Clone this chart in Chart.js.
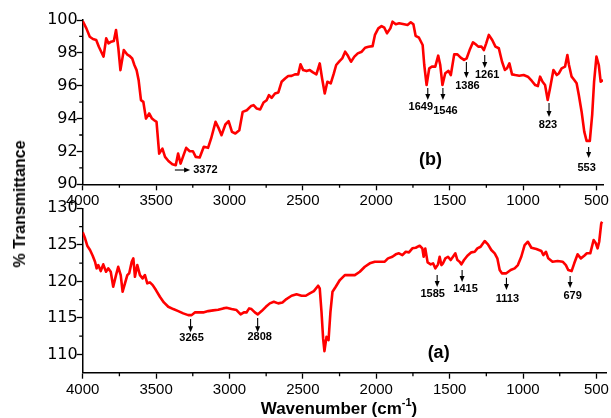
<!DOCTYPE html>
<html>
<head>
<meta charset="utf-8">
<title>FTIR spectra</title>
<script src="https://cdn.jsdelivr.net/npm/chart.js@4.4.1/dist/chart.umd.min.js"></script>
<style>
  html, body { margin: 0; padding: 0; background: #fff; }
  #wrap { position: relative; width: 611px; height: 418px; overflow: hidden; background: #fff; }
  .panel { position: absolute; left: 0; width: 611px; }
  #panelB { top: 0; height: 215px; }
  #panelA { top: 195px; height: 223px; }
  #yTitle {
    position: absolute; left: 20px; top: 204px;
    transform: translate(-50%, -50%) rotate(-90deg);
    font: bold 16px 'Liberation Sans', Arial, sans-serif;
    white-space: nowrap; color: #000;
  }
  #xTitle {
    position: absolute; left: 339px; top: 408px;
    transform: translate(-50%, -50%);
    font: bold 17px 'Liberation Sans', Arial, sans-serif;
    white-space: nowrap; color: #000;
  }
  #xTitle sup { font-size: 11px; position: relative; top: -1px; }
</style>
</head>
<body>
<div id="wrap">
  <div class="panel" id="panelB"><canvas id="chartB"></canvas></div>
  <div class="panel" id="panelA"><canvas id="chartA"></canvas></div>
  <div id="yTitle">% Transmittance</div>
  <div id="xTitle">Wavenumber (cm<sup>-1</sup>)</div>
</div>
<script>
// spectrum (b), upper panel
const wavenumbersB = [
  4000, 3975, 3952, 3930, 3908, 3890, 3874, 3858, 3840, 3824, 3806, 3788, 3773, 3757, 3743,
  3720, 3698, 3682, 3663, 3648, 3633, 3619, 3603, 3587, 3569, 3547, 3528, 3513, 3497, 3479,
  3457, 3439, 3416, 3389, 3366, 3350, 3333, 3317, 3295, 3271, 3249, 3230, 3203, 3175, 3146,
  3125, 3095, 3073, 3054, 3028, 3006, 2983, 2960, 2933, 2910, 2882, 2852, 2836, 2814, 2791,
  2768, 2747, 2731, 2713, 2690, 2667, 2645, 2621, 2600, 2577, 2554, 2532, 2516, 2498, 2475,
  2453, 2431, 2408, 2385, 2369, 2351, 2333, 2310, 2289, 2273, 2250, 2232, 2212, 2193, 2172,
  2149, 2126, 2099, 2076, 2053, 2025, 2009, 1986, 1964, 1945, 1927, 1904, 1889, 1867, 1844,
  1810, 1787, 1765, 1747, 1732, 1709, 1684, 1673, 1657, 1639, 1621, 1598, 1578, 1564, 1549,
  1530, 1508, 1492, 1469, 1447, 1425, 1402, 1384, 1364, 1341, 1323, 1305, 1283, 1267, 1251,
  1233, 1210, 1188, 1165, 1143, 1124, 1109, 1093, 1075, 1053, 1026, 996, 967, 940, 917,
  899, 884, 867, 850, 832, 816, 793, 770, 755, 737, 714, 698, 687, 669, 651,
  635, 620, 601, 583, 567, 545, 529, 516, 500, 484, 471, 455,
];
const transmittanceB = [
  99.94, 99.49, 98.98, 98.84, 98.78, 98.37, 98.07, 97.77, 98.88, 98.58, 98.68, 98.72, 99.39, 98.27, 96.95,
  98.17, 97.91, 97.82, 97.66, 97.26, 96.95, 96.34, 95.12, 95.02, 94.0, 94.31, 94.0, 93.9, 93.8, 91.87,
  92.17, 91.67, 91.42, 91.22, 91.16, 91.87, 91.26, 91.67, 92.22, 92.01, 92.01, 91.67, 91.63, 92.28, 92.22,
  92.79, 93.8, 93.4, 92.99, 93.64, 93.84, 93.19, 93.09, 93.29, 94.41, 94.51, 94.77, 94.82, 94.61, 94.55,
  94.98, 95.12, 95.43, 95.26, 95.53, 95.59, 96.24, 96.44, 96.59, 96.6, 96.69, 96.69, 97.3, 96.95, 96.89,
  96.95, 96.81, 96.69, 97.36, 96.44, 95.53, 96.24, 96.14, 96.75, 97.26, 97.5, 97.66, 98.07, 97.82, 97.46,
  97.77, 97.97, 98.07, 98.31, 98.37, 98.41, 99.09, 99.49, 99.63, 99.53, 99.19, 99.49, 99.9, 99.74, 99.8,
  99.74, 99.7, 99.86, 99.74, 99.04, 98.92, 98.48, 97.26, 96.04, 97.06, 97.16, 97.16, 97.83, 97.26, 96.04,
  96.76, 96.9, 96.65, 97.91, 97.91, 97.71, 97.57, 97.67, 98.17, 98.64, 98.52, 98.38, 98.38, 98.17, 98.58,
  99.09, 98.78, 98.38, 98.28, 97.46, 96.96, 97.06, 97.36, 96.69, 96.65, 96.61, 96.65, 96.55, 96.29, 96.04,
  95.98, 96.55, 96.24, 96.04, 95.13, 95.84, 96.96, 96.65, 96.76, 97.06, 97.16, 97.87, 97.26, 96.55, 96.35,
  96.15, 95.44, 94.42, 93.21, 92.64, 92.64, 94.22, 96.24, 97.77, 97.26, 96.24, 96.35,
];

// spectrum (a), lower panel
const wavenumbersA = [
  4000, 3984, 3969, 3950, 3932, 3916, 3905, 3894, 3877, 3860, 3841, 3826, 3809, 3792, 3773,
  3758, 3741, 3728, 3712, 3696, 3683, 3666, 3655, 3644, 3628, 3610, 3592, 3576, 3560, 3542,
  3523, 3501, 3474, 3447, 3417, 3383, 3349, 3315, 3281, 3258, 3236, 3206, 3179, 3145, 3111,
  3077, 3043, 3020, 2986, 2952, 2924, 2902, 2884, 2866, 2850, 2827, 2808, 2781, 2752, 2725,
  2698, 2668, 2639, 2612, 2577, 2543, 2509, 2480, 2453, 2425, 2396, 2385, 2373, 2362, 2353,
  2339, 2325, 2312, 2298, 2276, 2248, 2214, 2180, 2146, 2112, 2078, 2044, 2010, 1971, 1942,
  1920, 1890, 1867, 1845, 1822, 1799, 1777, 1754, 1731, 1704, 1686, 1677, 1666, 1650, 1629,
  1613, 1597, 1579, 1568, 1556, 1545, 1529, 1511, 1493, 1477, 1461, 1447, 1432, 1420, 1402,
  1379, 1352, 1329, 1311, 1289, 1261, 1239, 1216, 1193, 1175, 1159, 1144, 1114, 1084, 1057,
  1035, 1012, 989, 967, 943, 909, 875, 862, 844, 828, 799, 764, 730, 708, 692,
  669, 651, 628, 606, 583, 565, 542, 519, 504, 492, 481, 467, 461,
];
const transmittanceA = [
  126.71, 125.89, 124.88, 124.29, 123.51, 122.69, 121.78, 122.23, 121.41, 122.33, 121.32, 121.78, 121.32, 119.26, 120.86,
  122.0, 120.86, 118.58, 119.73, 120.86, 121.1, 122.69, 123.15, 120.63, 122.23, 120.86, 120.41, 120.86, 119.73, 119.86,
  119.49, 118.81, 117.89, 117.12, 116.52, 116.21, 115.93, 115.62, 115.38, 115.38, 115.75, 115.75, 115.75, 115.93, 116.03,
  116.11, 116.3, 116.38, 116.21, 116.07, 115.48, 115.75, 115.75, 116.3, 116.21, 115.75, 115.48, 115.93, 116.52, 116.99,
  117.21, 116.99, 117.12, 117.58, 118.03, 118.22, 118.03, 118.03, 118.36, 118.67, 119.4, 119.04, 115.84, 112.19, 110.45,
  112.41, 111.96, 115.84, 118.58, 119.26, 120.18, 120.86, 120.86, 120.86, 121.32, 122.0, 122.47, 122.69, 122.69, 122.69,
  123.15, 123.37, 123.7, 123.84, 123.6, 124.05, 123.97, 124.52, 124.6, 124.88, 124.52, 123.37, 124.5, 122.6, 122.33,
  122.47, 121.78, 122.33, 123.37, 122.23, 122.47, 123.15, 123.37, 122.92, 123.37, 123.84, 122.92, 122.69, 122.33, 122.92,
  123.51, 123.97, 124.05, 124.52, 124.74, 125.52, 125.07, 124.29, 123.84, 123.15, 121.55, 121.1, 121.1, 121.55, 121.78,
  122.23, 123.37, 124.97, 125.42, 124.6, 124.42, 124.15, 123.6, 124.05, 123.15, 122.69, 122.78, 122.69, 122.23, 121.55,
  121.41, 122.47, 123.7, 123.15, 123.51, 123.84, 123.84, 125.66, 125.21, 124.52, 125.42, 127.95, 128.16,
];

// labelled bands
const peaksB = [1649, 1546, 1386, 1261, 823, 553];
const peaksA = [3265, 2808, 1585, 1415, 1113, 679];

// tick values
const xMajorTicks = [4000, 3500, 3000, 2500, 2000, 1500, 1000, 500];
const xMinorTicks = [3750, 3250, 2750, 2250, 1750, 1250, 750];
const yMajorTicksB = [90, 92, 94, 96, 98, 100];
const yMinorTicksB = [91, 93, 95, 97, 99];
const yMajorTicksA = [110, 115, 120, 125, 130];
const yMinorTicksA = [112.5, 117.5, 122.5, 127.5];

const FONT = "'Liberation Sans', Arial, sans-serif";

const toPoints = (xs, ys) => xs.map((x, i) => ({ x, y: ys[i] }));
const fixedTicks = (values) => (scale) => {
  scale.ticks = values.map((value) => ({ value }));
};

const drawArrowHead = (ctx, x, y, dir) => {
  ctx.beginPath();
  if (dir === 'down') {
    ctx.moveTo(x - 2.5, y - 6);
    ctx.lineTo(x + 2.5, y - 6);
  } else {
    ctx.moveTo(x - 6, y - 2.5);
    ctx.lineTo(x - 6, y + 2.5);
  }
  ctx.lineTo(x, y);
  ctx.closePath();
  ctx.fill();
};

// small outward ticks between the labelled ones
const minorTicks = {
  id: 'minorTicks',
  afterDraw(chart, args, opts) {
    const { ctx, chartArea, scales } = chart;
    ctx.save();
    ctx.strokeStyle = '#000';
    ctx.lineWidth = 1.3;
    ctx.beginPath();
    opts.x.forEach((v) => {
      const px = scales.x.getPixelForValue(v);
      ctx.moveTo(px, chartArea.bottom);
      ctx.lineTo(px, chartArea.bottom + 3.5);
    });
    opts.y.forEach((v) => {
      const py = scales.y.getPixelForValue(v);
      ctx.moveTo(chartArea.left, py);
      ctx.lineTo(chartArea.left - 3.5, py);
    });
    ctx.stroke();
    ctx.restore();
  },
};

// arrows + band numbers + panel tag
const peakMarks = {
  id: 'peakMarks',
  afterDatasetsDraw(chart, args, opts) {
    const { ctx, scales } = chart;
    const { x, y } = scales;
    ctx.save();
    ctx.fillStyle = '#000';
    ctx.strokeStyle = '#000';
    ctx.lineWidth = 1.1;
    ctx.font = `bold 11px ${FONT}`;
    ctx.textAlign = 'center';
    ctx.textBaseline = 'middle';

    opts.marks.forEach((m) => {
      const px = x.getPixelForValue(m.at);
      const top = y.getPixelForValue(m.from);
      const tip = y.getPixelForValue(m.to);
      ctx.beginPath();
      ctx.moveTo(px, top);
      ctx.lineTo(px, tip - 5);
      ctx.stroke();
      drawArrowHead(ctx, px, tip, 'down');
      ctx.fillText(String(m.at), px + m.dx, y.getPixelForValue(m.label));
    });

    (opts.sideMarks || []).forEach((m) => {
      const x0 = x.getPixelForValue(m.at);
      const x1 = x.getPixelForValue(m.to);
      const py = y.getPixelForValue(m.level);
      ctx.beginPath();
      ctx.moveTo(x0, py);
      ctx.lineTo(x1 - 5, py);
      ctx.stroke();
      drawArrowHead(ctx, x1, py, 'right');
      ctx.textAlign = 'left';
      ctx.fillText(String(m.at), x1 + 3, py);
      ctx.textAlign = 'center';
    });

    ctx.font = `bold 18px ${FONT}`;
    ctx.fillText(opts.tag.text, x.getPixelForValue(opts.tag.x), y.getPixelForValue(opts.tag.y));
    ctx.restore();
  },
};

const createPanel = (canvasId, xs, ys, cfg) => {
  const ctx = document.getElementById(canvasId).getContext('2d');
  return new Chart(ctx, {
    type: 'line',
    data: {
      datasets: [
        {
          data: toPoints(xs, ys),
          borderColor: '#ff0000',
          borderWidth: 2.6,
          pointRadius: 0,
          tension: 0,
          fill: false,
          borderJoinStyle: 'round',
        },
      ],
    },
    options: {
      responsive: true,
      maintainAspectRatio: false,
      animation: false,
      events: [],
      layout: { padding: cfg.padding },
      plugins: {
        legend: { display: false },
        tooltip: { enabled: false },
        minorTicks: { x: xMinorTicks, y: cfg.yMinor },
        peakMarks: { marks: cfg.marks, sideMarks: cfg.sideMarks, tag: cfg.tag },
      },
      scales: {
        x: {
          type: 'linear',
          reverse: true,
          min: cfg.xMin,
          max: 4000,
          afterBuildTicks: fixedTicks(xMajorTicks),
          afterFit: (scale) => { scale.height = 25; },
          ticks: {
            autoSkip: false,
            color: '#000',
            padding: 2,
            maxRotation: 0,
            callback: (value) => String(value),
            font: { family: FONT, size: 15 },
          },
          grid: {
            display: true,
            drawOnChartArea: false,
            tickLength: 6,
            tickColor: '#000',
            tickWidth: 1.3,
          },
          border: { color: '#000', width: 1.5 },
        },
        y: {
          min: cfg.yMin,
          max: cfg.yMax,
          afterBuildTicks: fixedTicks(cfg.yMajor),
          afterFit: (scale) => { scale.width = 82.7; },
          ticks: {
            autoSkip: false,
            color: '#000',
            padding: -1,
            callback: (value) => String(value),
            font: { family: "'DejaVu Sans', sans-serif", size: 16 },
          },
          grid: {
            display: true,
            drawOnChartArea: false,
            tickLength: 6,
            tickColor: '#000',
            tickWidth: 1.3,
          },
          border: { color: '#000', width: 1.5 },
        },
      },
    },
    plugins: [minorTicks, peakMarks],
  });
};

const chartB = createPanel('chartB', wavenumbersB, transmittanceB, {
  xMin: 455,
  yMin: 90,
  yMax: 100,
  yMajor: yMajorTicksB,
  yMinor: yMinorTicksB,
  padding: { left: 0, top: 20, right: 4.3, bottom: 5.7 },
  marks: [
    { at: peaksB[0], from: 95.86, to: 95.13, label: 94.7, dx: -7 },
    { at: peaksB[1], from: 95.86, to: 95.13, label: 94.46, dx: 2.5 },
    { at: peaksB[2], from: 97.44, to: 96.47, label: 95.98, dx: 1 },
    { at: peaksB[3], from: 97.87, to: 97.08, label: 96.65, dx: 2.5 },
    { at: peaksB[4], from: 94.95, to: 94.1, label: 93.61, dx: -1 },
    { at: peaksB[5], from: 92.27, to: 91.6, label: 90.99, dx: -2 },
  ],
  sideMarks: [{ at: 3372, to: 3268, level: 90.87 }],
  tag: { text: '(b)', x: 1630, y: 91.48 },
});

const chartA = createPanel('chartA', wavenumbersA, transmittanceA, {
  xMin: 433,
  yMin: 107.5,
  yMax: 130,
  yMajor: yMajorTicksA,
  yMinor: yMinorTicksA,
  padding: { left: 0, top: 13.3, right: 4.3, bottom: 20.3 },
  marks: [
    { at: peaksA[0], from: 114.84, to: 113.05, label: 112.23, dx: 1 },
    { at: peaksA[1], from: 114.97, to: 113.05, label: 112.37, dx: 2 },
    { at: peaksA[2], from: 120.86, to: 119.22, label: 118.26, dx: -4.5 },
    { at: peaksA[3], from: 121.55, to: 119.9, label: 118.95, dx: 3.5 },
    { at: peaksA[4], from: 120.5, to: 118.81, label: 117.58, dx: 1 },
    { at: peaksA[5], from: 120.73, to: 119.08, label: 117.99, dx: 2.5 },
  ],
  sideMarks: [],
  tag: { text: '(a)', x: 1575, y: 110.18 },
});
</script>
</body>
</html>
